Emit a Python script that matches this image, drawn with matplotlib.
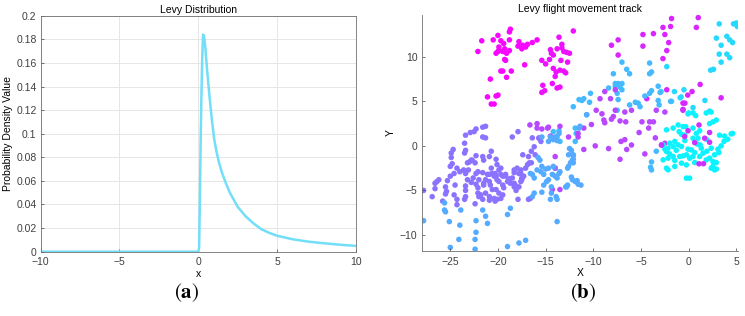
import matplotlib
matplotlib.use("Agg")
import matplotlib.pyplot as plt

plt.rcParams["font.family"] = ["Liberation Sans", "DejaVu Sans"]
plt.rcParams["mathtext.fontset"] = "stix"

# (a) Levy density
pdf_x = [-10, -5, 0, 0.05, 0.1, 0.15, 0.2, 0.25, 0.3, 0.36, 0.45, 0.55, 0.7, 0.85,
         1.0, 1.15, 1.3, 1.5, 1.75, 2.0, 2.25, 2.5, 2.75, 3.0, 3.5, 4.0, 4.5, 5.0,
         6.0, 7.0, 8.0, 9.0, 10.0]
pdf_y = [0, 0, 0, 0.003, 0.045, 0.095, 0.135, 0.165, 0.184, 0.183, 0.172, 0.155, 0.133, 0.113,
         0.096, 0.085, 0.076, 0.067, 0.058, 0.050, 0.044, 0.038, 0.034, 0.030, 0.024, 0.019,
         0.016, 0.0135, 0.0105, 0.0085, 0.0071, 0.0059, 0.0049]

# (b) Levy flight track, grouped by colour region
# magenta cluster, upper left
top_left_x = [-22.1, -21.7, -20.5, -20.0, -19.7, -19.9, -19.4, -18.8, -18.7, -18.8, -19.5, -19.1,
              -18.8, -19.2, -19.1, -19.7, -19.5, -18.6, -20.8, -19.9, -17.8, -17.4, -17.1, -16.9,
              -16.4, -15.9, -17.2, -21.1, -20.2, -20.0, -20.7, -20.4, -20.2, -19.3, -20.0, -19.3,
              -17.9, -17.5]
top_left_y = [10.6, 11.8, 11.9, 12.4, 11.8, 11.1, 11.5, 11.9, 13.1, 12.8, 10.6, 10.4,
              10.7, 9.6, 7.7, 8.4, 8.4, 8.4, 7.5, 10.7, 11.7, 11.3, 11.1, 11.4,
              11.6, 11.9, 9.1, 5.5, 5.6, 5.7, 4.7, 4.7, 10.4, 10.9, 10.6, 9.7,
              11.2, 10.9]
# second magenta cluster
top_mid_x = [-15.4, -15.0, -14.6, -14.5, -14.2, -13.8, -13.6, -13.3, -13.1, -12.8, -12.5, -12.1,
             -13.4, -12.7, -14.2, -13.9, -13.5, -12.9, -13.1, -14.0, -15.3, -15.4, -15.1, -13.8,
             -13.5, -14.3, -14.4, -13.3]
top_mid_y = [9.6, 9.2, 9.7, 10.8, 10.2, 10.9, 12.2, 11.4, 10.6, 10.5, 10.4, 12.9,
             9.6, 9.4, 8.7, 8.3, 8.5, 8.2, 8.4, 7.8, 6.8, 6.0, 6.2, 6.5,
             6.6, 7.0, 10.4, 11.0]
# magenta points, upper centre/right
top_right_x = [-8.1, -7.4, -7.4, -4.8, -4.8, -3.7, -2.7, -1.9, -1.8, -2.5, -2.1, -2.3,
               1.0, 0.8, 1.2, 0.35, -0.1, -0.6, -0.4, -0.6, 3.4, -4.4, -2.3, -2.7]
top_right_y = [11.3, 11.9, 10.2, 12.5, 11.2, 12.6, 13.3, 13.4, 14.3, 12.5, 11.6, 10.7,
               14.4, 13.3, 6.9, 6.1, 5.7, 4.8, 4.8, 4.1, 5.4, 5.3, 6.3, 9.8]
# cyan, upper right
cyan_top_x = [3.2, 4.7, 5.0, 5.1, 2.9, 4.0, 4.3, 4.6, 3.4, 3.2, 4.0, 4.3, 3.4, 2.3, 2.6, -2.3,
              -2.9, -1.5, -0.5, -0.8, -0.9, -1.8, 1.7, 0.45, -0.07, 2.2]
cyan_top_y = [13.7, 13.7, 13.8, 13.4, 12.1, 12.3, 11.9, 11.6, 11.3, 10.3, 10.3, 9.9, 9.4, 8.5, 8.6, 8.9,
              6.1, 6.1, 6.3, 5.5, 5.4, 5.0, 5.1, 4.3, 3.6, 3.9]
# blue, centre
blue_mid_x = [-7.0, -7.9, -6.5, -6.2, -4.1, -3.9, -4.1, -7.7, -7.4, -7.0, -7.7, -7.2,
              -7.0, -7.5, -7.4, -11.5, -11.2, -11.0, -10.3, -10.4, -12.1, -10.7, -6.2, -5.6,
              -5.3, -5.1, -4.6, -4.1, -3.9, -3.2, -7.5, -3.0, -3.2, -3.1, -1.9, -8.4,
              -14.2, -13.6, -13.8, -14.3, -13.5, -11.9, -11.8, -11.9, -3.9, -3.9, -3.4, -4.0]
blue_mid_y = [9.4, 8.1, 8.6, 8.1, 9.3, 8.3, 8.1, 7.0, 7.0, 7.0, 6.7, 6.6,
              6.3, 5.9, 5.2, 5.2, 5.1, 5.3, 5.9, 4.9, 4.4, 3.5, 4.6, 4.9,
              4.8, 4.4, 5.6, 5.9, 6.2, 6.7, 4.0, 6.0, 5.1, 4.6, 5.0, 6.5,
              1.6, 1.7, 1.0, 0.9, 0.5, 2.0, 1.4, 0.5, -1.8, -2.7, -0.6, -2.4]
# purple, centre
purple_mid_x = [-9.7, -9.1, -8.9, -8.8, -8.1, -7.9, -7.7, -9.3, -8.8, -8.2, -7.7, -7.2,
                -6.7, -6.0, -6.6, -10.2, -11.0, -11.6, -13.5, -9.8, -8.4, -7.1, -6.7, -6.5,
                -6.0, -7.2, -4.6, -4.9, -4.1, -3.7, -4.2, -5.2, -3.5, -2.85, -2.5, -11.0,
                -3.4, -2.5, -12.6, -11.6, -14.0, -14.0, -13.5, -14.3, -16.65, -15.9, -15.9,
                -15.7, -14.7, -14.5, -15.4, -14.8]
purple_mid_y = [4.0, 3.6, 2.9, 2.6, 3.0, 3.3, 4.0, 5.3, 6.1, 5.3, 6.3, 2.8,
                3.8, 4.0, 2.7, 2.4, 2.0, 1.4, 2.2, 0.0, -0.3, 0.5, 0.7, -0.4,
                0.1, -1.5, -0.9, 2.7, 2.7, 2.7, 2.0, 1.5, 0.9, 0.1, 0.3, -0.4,
                4.0, 3.8, 1.0, 1.0, -1.2, -2.5, -4.9, -4.9, 2.35, 2.5, 2.0,
                0.86, 2.1, 1.1, 1.9, 2.0]
# cyan cluster, right
cyan_right_x = [0.0, 0.45, 0.73, 1.84, 2.36, -2.33, -1.63, -1.11, -0.59, -0.31, 0.45, 0.8,
                1.15, 2.19, 2.54, 2.89, -0.76, -0.42, 3.23, 3.75, 4.1, 4.45, -1.46, -1.98,
                -2.68, 0.45, 0.97, 1.84, -2.5, -2.16, -2.33, -1.63, -1.11, -0.76, -0.07, 0.28,
                0.63, 1.32, 1.5, 2.36, 3.06, 3.16, 2.71, -2.68, -2.16, -1.63, -1.46, -0.94,
                -0.59, -0.24, 0.1, 0.45, 1.15, 1.84, 2.19, 2.54, 2.89, -2.33, -2.16, -1.46,
                -0.76, -0.24, 0.63, 2.36, 2.71, 2.54, -0.24, 0.1, 3.7, 4.6, 2.9, -1.0,
                -1.3, 0.9, 1.9, -2.0, 3.4, -0.4, 1.2]
cyan_right_y = [3.7, 3.7, 3.4, 3.7, 3.8, 1.8, 2.0, 2.35, 2.16, 2.16, 2.0, 1.4,
                1.7, 2.5, 2.7, 2.9, 1.3, 1.2, 1.2, 1.1, 0.75, 1.35, 0.5, 0.3,
                0.1, 0.86, 0.86, 0.75, -0.37, -0.26, -0.63, -0.07, 0.11, -0.07, -0.37, -0.45,
                -0.75, -0.26, -0.82, -0.26, -0.37, -0.75, -1.0, -1.57, -1.38, -1.19, -1.64, -1.19,
                -1.12, -1.0, -1.38, -1.19, -1.19, -1.57, -1.38, -1.75, -1.87, -2.5, -2.69, -2.31,
                -1.94, -2.13, -1.87, -2.5, -2.69, -2.31, -3.62, -3.62, 0.5, 1.4, -2.6, 1.6,
                -0.5, 0.2, -0.6, -0.9, 0.0, 0.6, 0.1]
# magenta inside the right cluster
mag_right_x = [-0.6, 1.08, -0.07, 2.19, -0.42, -2.85, 0.63, 1.67, 2.19, 1.08, 1.55]
mag_right_y = [4.0, 2.35, 1.7, 1.5, 1.05, 0.1, 0.37, 0.86, 0.41, -2.01, -2.0]
# blue-violet cloud, lower left
low_left_x = [-27.8, -26.9, -26.6, -26.4, -26.2, -25.8, -25.5, -25.4, -25.5, -25.3, -25.0, -24.9,
              -24.9, -24.7, -24.6, -24.3, -24.0, -23.6, -24.5, -24.6, -24.3, -23.5, -23.4, -23.5,
              -23.4, -23.5, -23.4, -22.9, -23.2, -23.0, -22.8, -22.7, -23.1, -23.4, -23.2, -22.8,
              -23.4, -23.4, -22.6, -22.3, -22.4, -22.3, -22.3, -22.1, -22.1, -22.0, -22.4, -22.5,
              -22.3, -21.6, -21.5, -21.3, -21.1, -21.6, -21.3, -21.6, -21.3, -21.6, -21.5, -20.9,
              -20.7, -20.4, -20.3, -21.8, -21.3, -20.9, -20.9, -20.6, -20.7, -20.2, -20.1, -19.9,
              -19.7, -19.9, -19.5, -19.7, -19.2, -20.1, -20.3, -20.4, -19.9, -19.7, -19.5, -19.4,
              -19.0, -18.8, -18.5, -18.3, -18.2, -18.1, -17.9, -18.3, -17.8, -17.6, -18.5, -17.9,
              -17.5, -17.3, -17.1, -16.9, -16.7, -16.5, -16.8, -16.5, -16.4, -16.2, -16.1, -17.4,
              -15.7, -15.5, -16.8, -16.6, -14.0, -26.6, -25.0, -24.8, -24.3,
              -22.1, -21.6, -22.0, -20.9, -20.6, -20.2, -20.1, -19.5, -19.2, -18.8, -18.7,
              -21.5, -20.9, -20.8, -20.2, -18.3, -18.0, -17.6, -17.5, -18.3, -17.8, -17.6]
low_left_y = [-5.0, -5.7, -4.2, -4.0, -3.8, -6.2, -4.6, -5.1, -5.4, -3.9, -2.3, -1.3,
              -0.8, -0.4, -3.1, -2.5, -2.9, -2.7, -4.4, -5.5, -6.0, -6.0, -5.7, -0.8,
              -0.5, 0.3, 1.2, 1.5, -1.9, -1.8, -1.6, -1.6, -2.7, -3.1, -3.8, -4.1,
              -4.5, -5.0, -3.6, -3.1, -1.9, -1.1, -4.3, -4.7, -5.3, -5.7, -6.5, 1.6,
              1.9, 2.1, -1.6, 2.2, -3.2, 1.0, 0.9, -1.2, -3.8, -6.0, -4.4, -1.2,
              -0.6, -3.4, -3.1, -5.5, -5.3, -5.7, -6.1, -4.9, -2.5, -1.5, -2.1, -2.7,
              -2.5, -4.0, -4.4, -3.2, -3.4, -6.0, -6.2, -5.9, -5.3, -5.9, -5.5, -4.7,
              -4.0, -3.7, -3.6, -4.6, -4.4, -5.0, -6.0, -3.0, -3.1, -2.7, 1.0, 1.6,
              -3.8, -3.4, -2.5, -2.1, -1.9, -1.9, -1.2, -0.6, 0.9, -0.1, -1.0, -1.0,
              0.9, 0.5, -6.0, -5.9, -2.5, -4.8, -3.4, -2.0, -6.6,
              -2.9, -3.0, -3.8, -3.2, -3.1, -3.4, -3.8, -3.4, -3.2, -3.8, -4.2,
              -4.2, -4.0, -4.4, -4.9, -2.7, -2.5, -3.1, -3.6, -4.2, -4.6, -4.0]
# blue, lower and right edge of the cloud
low_blue_x = [-27.8, -25.6, -25.6, -25.5, -25.1, -25.0, -24.1, -24.0, -23.9, -22.3, -22.3, -22.4,
              -22.4, -21.6, -21.3, -21.1, -19.0, -18.7, -19.0, -17.8, -17.1, -15.4, -15.8, -15.6,
              -15.4, -15.2, -14.9, -14.7, -14.4, -14.4, -14.5, -14.7, -14.2, -14.3, -14.0, -13.8,
              -13.6, -13.5, -14.7, -14.5, -14.2, -14.0, -13.8, -13.6, -13.9, -13.8, -12.9, -12.7,
              -12.2, -12.3, -12.1, -12.1, -11.9, -11.6, -12.7, -12.1, -12.5, -12.3, -13.8, -11.5,
              -11.4, -12.6, -12.1, -12.2, -12.4, -12.6, -11.7, -11.3, -12.8, -16.4, -16.2, -10.7,
              -16.6, -16.4, -16.2, -15.9, -15.5, -15.4, -15.0, -15.2]
low_blue_y = [-8.4, -6.4, -7.2, -7.4, -8.5, -11.4, -10.5, -8.9, -7.2, -8.4, -9.7, -10.5,
              -11.6, -7.2, -7.9, -8.7, -11.3, -7.0, -7.7, -10.9, -10.6, 1.0, -1.3, -1.6,
              -5.2, -4.4, -4.0, -3.8, -4.6, -5.3, -6.0, -2.5, -2.3, -3.2, -3.4, -3.6,
              -3.1, -2.9, 0.5, 1.0, 0.7, 1.0, 0.6, 1.4, -5.7, -6.0, -4.6, -4.4,
              -3.8, -3.5, -1.5, -1.1, -4.0, -4.3, -2.5, -1.9, -0.3, -0.5, -8.5, 2.0,
              2.2, -1.0, -1.0, -1.6, -1.9, -2.3, -3.9, -4.4, -4.6, -5.7, -5.3, 3.5,
              -3.1, -3.2, -3.6, -2.7, -2.9, -2.3, -2.6, -3.2]

# colour value per group on the "cool" map
groups = [
    (top_left_x, top_left_y, 0.97),
    (top_mid_x, top_mid_y, 0.93),
    (top_right_x, top_right_y, 0.85),
    (cyan_top_x, cyan_top_y, 0.15),
    (blue_mid_x, blue_mid_y, 0.27),
    (purple_mid_x, purple_mid_y, 0.72),
    (cyan_right_x, cyan_right_y, 0.05),
    (mag_right_x, mag_right_y, 0.8),
    (low_left_x, low_left_y, 0.55),
    (low_blue_x, low_blue_y, 0.33),
]

AX_COLOR = "#404040"

fig = plt.figure(figsize=(7.45, 3.16), dpi=100)

# ---- (a) ----
ax1 = fig.add_axes([0.0546, 0.2035, 0.4232, 0.7468])
ax1.plot(pdf_x, pdf_y, color="#72def7", lw=1.8)
ax1.set_xlim(-10, 10)
ax1.set_ylim(0, 0.2)
ax1.set_xticks([-10, -5, 0, 5, 10])
ax1.set_yticks([0, 0.02, 0.04, 0.06, 0.08, 0.1, 0.12, 0.14, 0.16, 0.18, 0.2])
ax1.set_yticklabels(["0", "0.02", "0.04", "0.06", "0.08", "0.1", "0.12", "0.14",
                     "0.16", "0.18", "0.2"])
ax1.grid(True, color="#e6e6e6", lw=0.7)
ax1.set_axisbelow(True)
ax1.set_title("Levy Distribution", fontsize=7.5, pad=2)
ax1.set_xlabel("x", fontsize=7.5, labelpad=1)
ax1.set_ylabel("Probability Density Value", fontsize=7.5, labelpad=2)

# ---- (b) ----
ax2 = fig.add_axes([0.566, 0.2057, 0.425, 0.747])
for gx, gy, cv in groups:
    ax2.scatter(gx, gy, c=[cv] * len(gx), cmap="cool", vmin=0, vmax=1,
                s=16, linewidths=0)
ax2.set_xlim(-28.0, 5.2)
ax2.set_ylim(-11.8, 14.7)
ax2.set_xticks([-25, -20, -15, -10, -5, 0, 5])
ax2.set_yticks([-10, -5, 0, 5, 10])
ax2.spines["top"].set_visible(False)
ax2.spines["right"].set_visible(False)
ax2.set_title("Levy flight movement track", fontsize=7.5, pad=2)
ax2.set_xlabel("X", fontsize=7.5, labelpad=1)
ax2.set_ylabel("Y", fontsize=7.5, labelpad=3)

for ax in (ax1, ax2):
    ax.tick_params(direction="in", length=2.5, width=0.5, labelsize=7.5,
                   colors=AX_COLOR)
    ax.tick_params(axis="x", pad=4)
    ax.tick_params(axis="y", pad=3)
    for sp in ax.spines.values():
        sp.set_color("#707070")
        sp.set_linewidth(0.6)

fig.text(187 / 745, 1 - 293 / 316, r"$(\mathbf{a})$", fontsize=15,
         ha="center", va="center")
fig.text(583 / 745, 1 - 293 / 316, r"$(\mathbf{b})$", fontsize=15,
         ha="center", va="center")

fig.savefig("out.png", dpi=100)
